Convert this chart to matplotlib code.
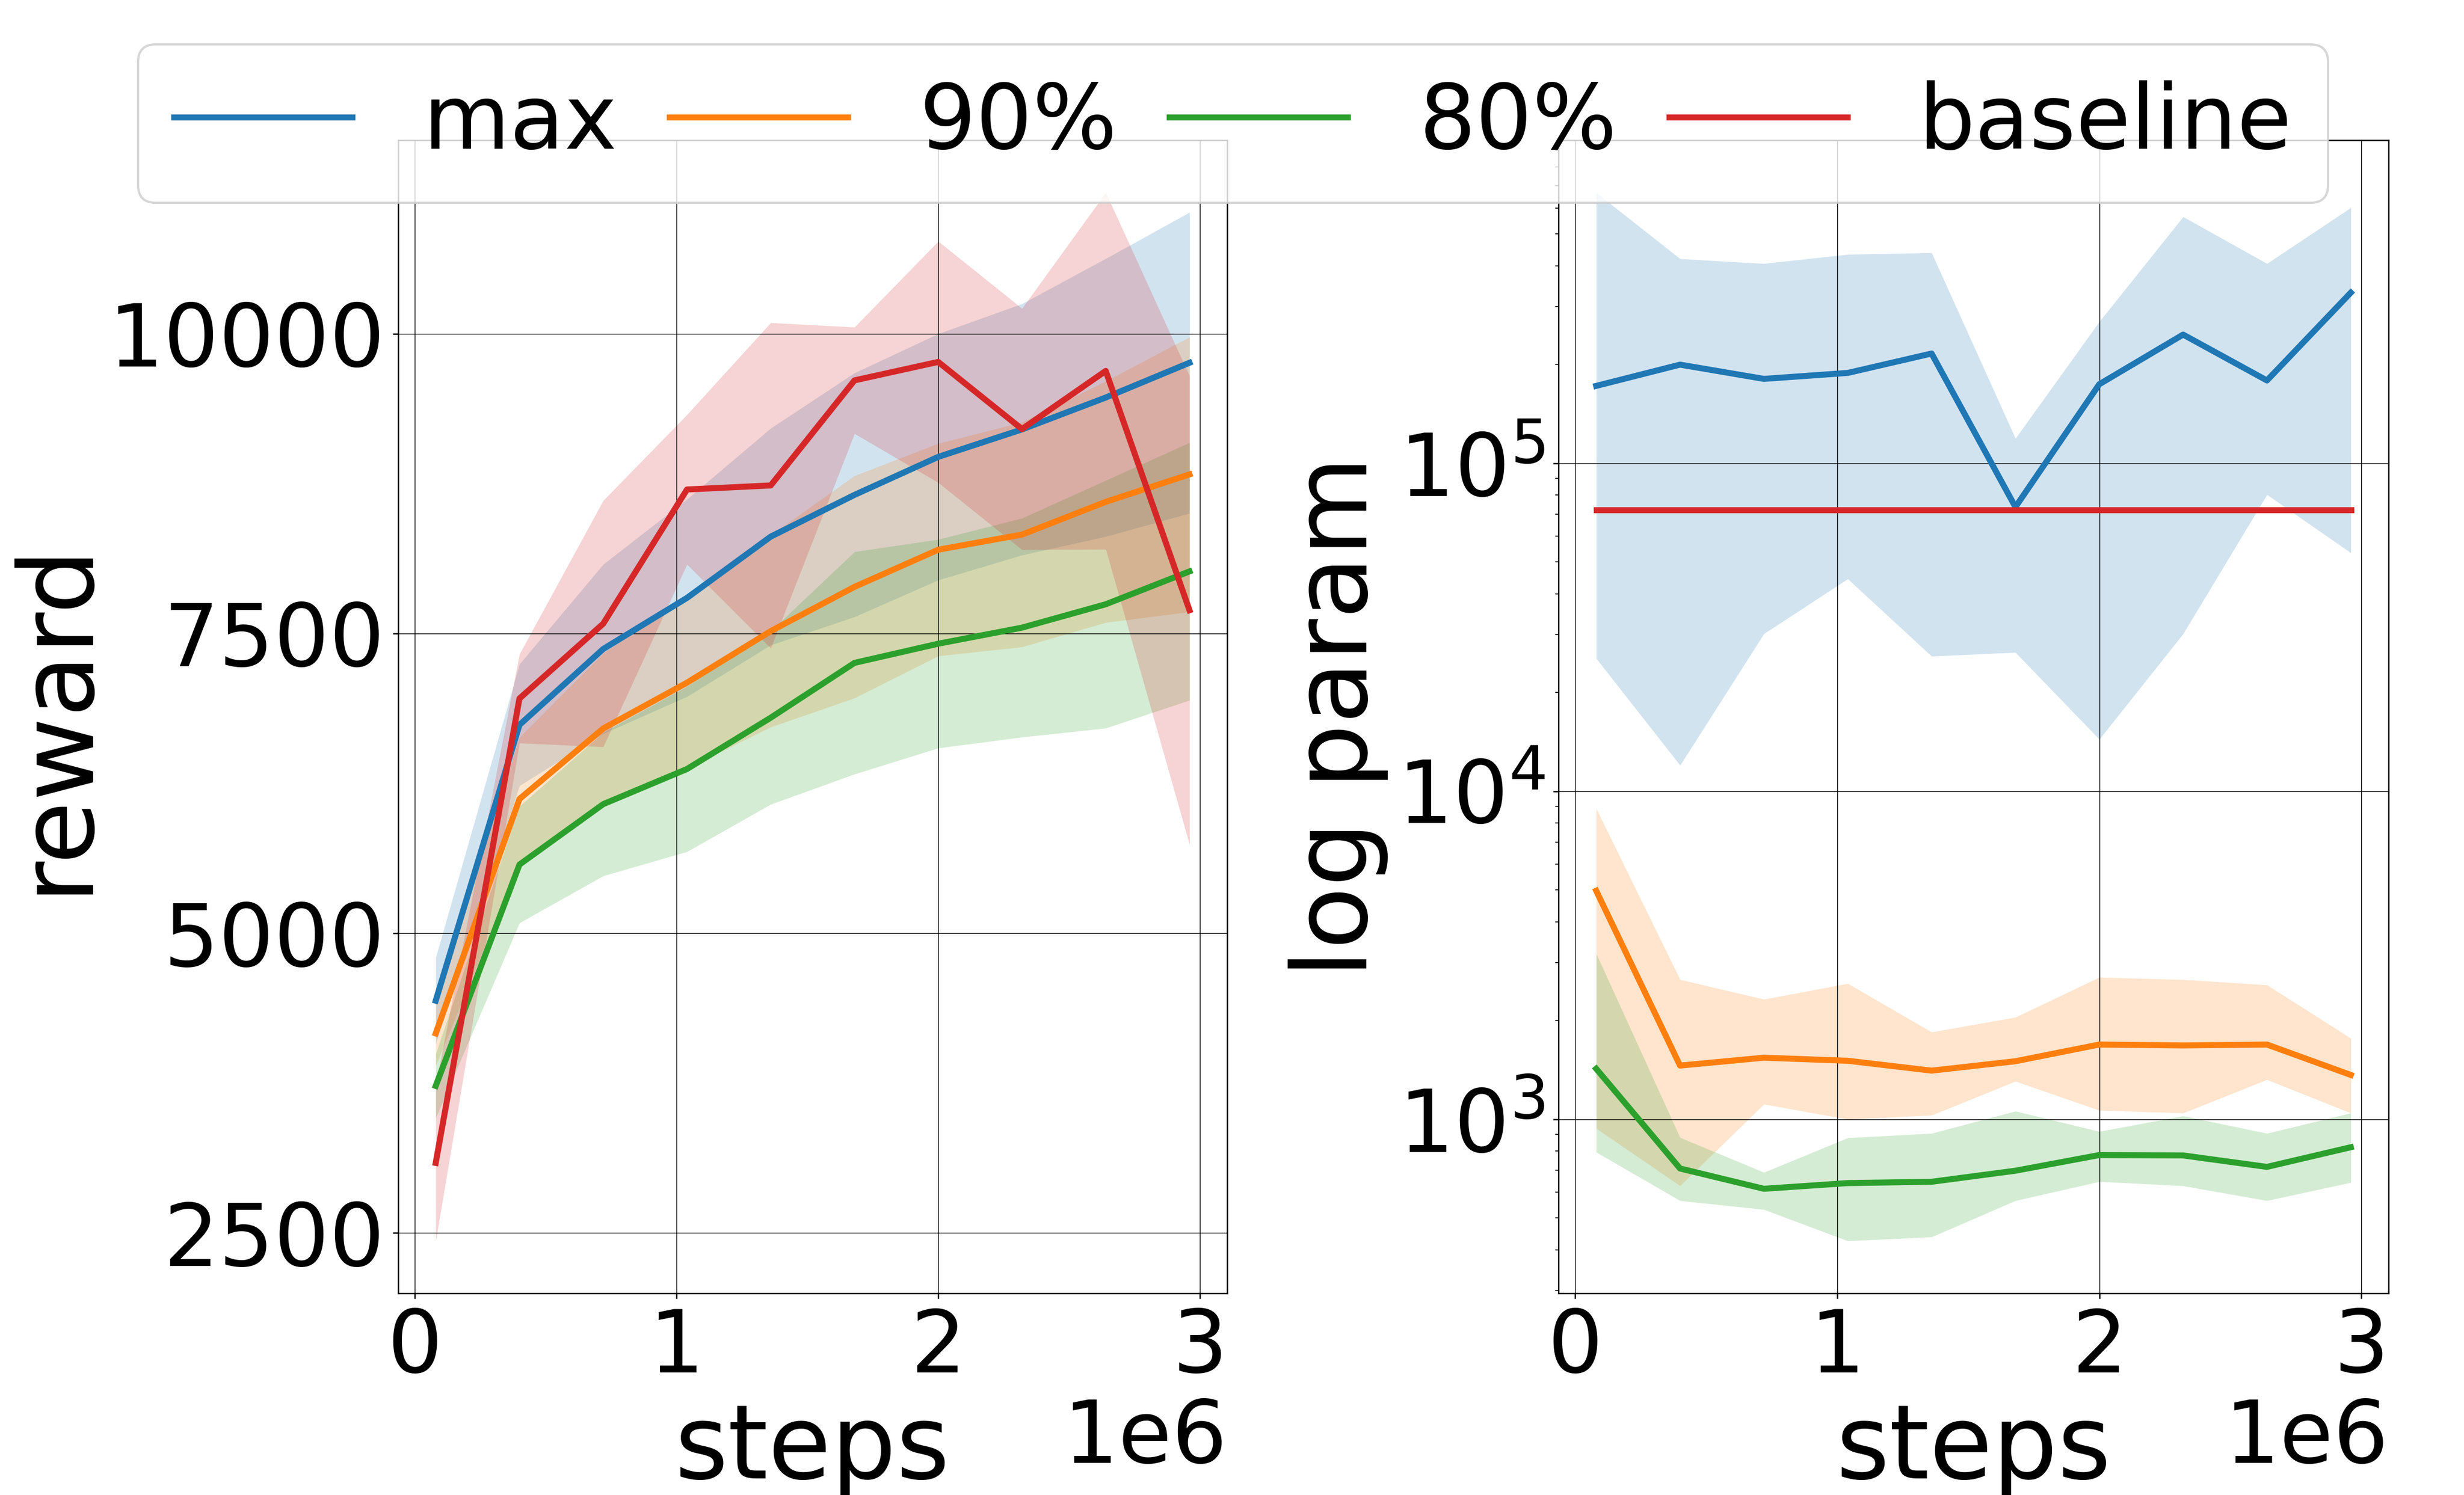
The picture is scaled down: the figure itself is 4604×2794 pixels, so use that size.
import matplotlib
matplotlib.use("Agg")
import matplotlib.pyplot as plt
import numpy as np

# training steps (x axis, same for all runs)
steps = [80000, 400000, 720000, 1040000, 1360000, 1680000, 2000000, 2320000, 2640000, 2960000]

labels = ["max", "90%", "80%", "baseline"]
colors = ["tab:blue", "tab:orange", "tab:green", "tab:red"]

# left panel: reward mean and std
reward_max = [4438, 6738, 7371, 7797, 8308, 8656, 8973, 9202, 9468, 9758]
reward_max_std = [360, 507, 706, 823, 904, 1017, 1027, 1048, 1159, 1255]
reward_90 = [4165, 6120, 6708, 7090, 7520, 7889, 8199, 8325, 8598, 8827]
reward_90_std = [270, 515, 627, 714, 800, 927, 886, 937, 1006, 1146]
reward_80 = [3727, 5573, 6077, 6370, 6798, 7255, 7415, 7549, 7744, 8018]
reward_80_std = [268, 486, 598, 689, 722, 927, 870, 913, 1033, 1074]
reward_base = [3085, 6958, 7582, 8701, 8735, 9611, 9765, 9205, 9690, 7694]
reward_base_std = [650, 371, 1027, 624, 1357, 444, 1006, 1006, 1487, 1954]

# right panel: parameter value with lower / upper envelope
param_max = [172000, 199700, 180700, 188400, 215900, 73500, 174000, 246600, 178700, 331000]
param_max_lo = [25400, 12000, 30200, 44400, 25800, 26500, 14400, 30200, 80200, 53300]
param_max_hi = [668000, 420000, 406000, 433000, 438000, 119000, 270000, 564000, 406000, 601000]
param_90 = [4974, 1458, 1541, 1508, 1407, 1503, 1690, 1679, 1690, 1365]
param_90_lo = [938, 627, 1112, 1000, 1029, 1306, 1065, 1045, 1321, 1045]
param_90_hi = [8856, 2667, 2322, 2594, 1845, 2047, 2710, 2666, 2568, 1766]
param_80 = [1426, 708, 614, 639, 645, 697, 778, 776, 716, 822]
param_80_lo = [794, 565, 531, 426, 438, 565, 646, 627, 565, 642]
param_80_hi = [3199, 880, 689, 878, 906, 1059, 918, 1024, 906, 1045]
param_base = [72100, 72100, 72100, 72100, 72100, 72100, 72100, 72100, 72100, 72100]

plt.rcParams["xtick.labelsize"] = 39
plt.rcParams["ytick.labelsize"] = 39
plt.rcParams["axes.linewidth"] = 0.6
plt.rcParams["xtick.major.size"] = 2.5
plt.rcParams["ytick.major.size"] = 2.5
plt.rcParams["xtick.major.width"] = 0.6
plt.rcParams["ytick.major.width"] = 0.6
plt.rcParams["ytick.minor.size"] = 1.5
plt.rcParams["ytick.minor.width"] = 0.4

W, H = 4604, 2794
fig = plt.figure(figsize=(W / 300, H / 300), dpi=300)
ax1 = fig.add_axes([743.7 / W, 1 - 2417 / H, (2293 - 743.7) / W, (2417 - 262) / H])
ax2 = fig.add_axes([2912 / W, 1 - 2417 / H, (4463 - 2912) / W, (2417 - 262) / H])

x = np.array(steps)
LW = 2.7

reward = [(reward_max, reward_max_std), (reward_90, reward_90_std),
          (reward_80, reward_80_std), (reward_base, reward_base_std)]
handles = []
for (mean, std), c, lab in zip(reward, colors, labels):
    mean = np.array(mean)
    std = np.array(std)
    h, = ax1.plot(x, mean, color=c, lw=LW, label=lab)
    ax1.fill_between(x, mean - std, mean + std, color=c, alpha=0.2, lw=0)
    handles.append(h)

params = [(param_max, param_max_lo, param_max_hi), (param_90, param_90_lo, param_90_hi),
          (param_80, param_80_lo, param_80_hi)]
for (mean, lo, hi), c in zip(params, colors):
    ax2.plot(x, mean, color=c, lw=LW)
    ax2.fill_between(x, lo, hi, color=c, alpha=0.2, lw=0)
ax2.plot(x, param_base, color=colors[3], lw=LW)
ax2.set_yscale("log")

ax1.set_yticks([2500, 5000, 7500, 10000])
for ax in (ax1, ax2):
    ax.set_xticks([0, 1000000, 2000000, 3000000])
    ax.grid(True, color="k", lw=0.35)
    ax.set_xlabel("steps", fontsize=46)

ax1.set_ylabel("reward", fontsize=46, labelpad=1)
ax2.set_ylabel("log param", fontsize=46)

fig.legend(handles, labels, loc="upper left", ncol=4, mode="expand",
           bbox_to_anchor=(258 / W, 1 - 379 / H, (4350 - 258) / W, (379 - 83) / H),
           borderaxespad=0, fontsize=40)

fig.savefig("out.png", dpi=300)
